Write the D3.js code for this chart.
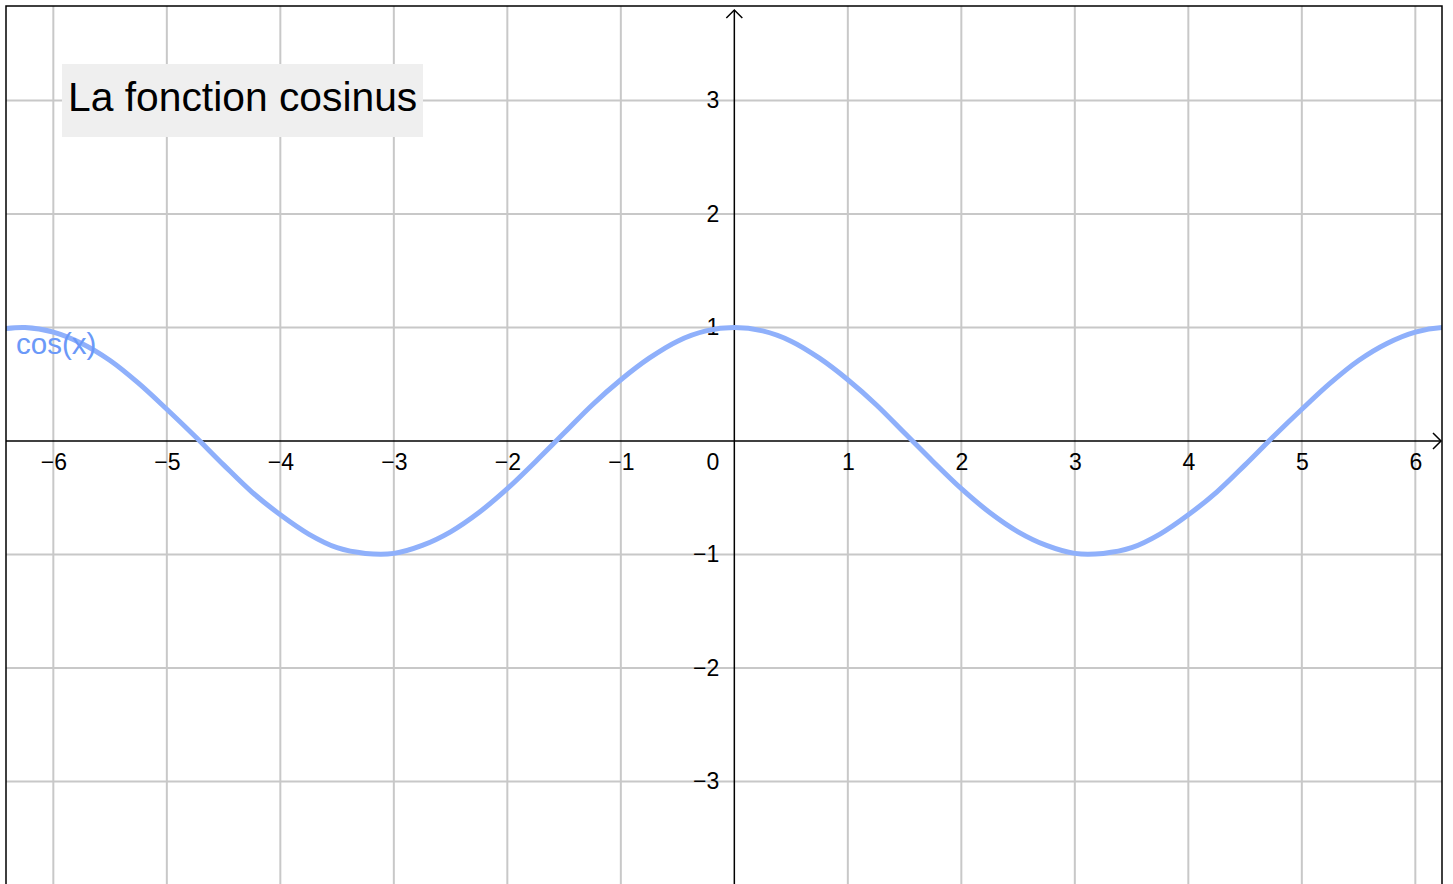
<!DOCTYPE html>
<html>
  <head>
    <meta charset="utf-8">
    <title>La fonction cosinus</title>
    <script src="https://cdn.jsdelivr.net/npm/d3@7"></script>
    <style>
      body { margin: 0; background: #fff; }
      svg { display: block; font-family: "Liberation Sans", Arial, sans-serif; }
      .grid line { stroke: #c8c8c8; stroke-width: 2; }
      .tick text, .label { font-family: "Liberation Sans", Arial, sans-serif; font-size: 23px; fill: #000; }
    </style>
  </head>

  <body>
    <svg id="chart" width="1453" height="884"></svg>

    <script>
      // data
      title = "La fonction cosinus";
      curveLabel = "cos(x)";
      xValues = [-6.5, -6.25, -6, -5.75, -5.5, -5.25, -5, -4.75, -4.5, -4.25, -4, -3.75, -3.5, -3.25,
        -3, -2.75, -2.5, -2.25, -2, -1.75, -1.5, -1.25, -1, -0.75, -0.5, -0.25, 0,
        0.25, 0.5, 0.75, 1, 1.25, 1.5, 1.75, 2, 2.25, 2.5, 2.75, 3, 3.25,
        3.5, 3.75, 4, 4.25, 4.5, 4.75, 5, 5.25, 5.5, 5.75, 6, 6.25, 6.5];
      yValues = [0.98, 1, 0.96, 0.86, 0.71, 0.51, 0.28, 0.04, -0.21, -0.45, -0.65, -0.82, -0.94, -0.99,
        -0.99, -0.92, -0.80, -0.63, -0.42, -0.18, 0.07, 0.32, 0.54, 0.73, 0.88, 0.97, 1,
        0.97, 0.88, 0.73, 0.54, 0.32, 0.07, -0.18, -0.42, -0.63, -0.80, -0.92, -0.99, -0.99,
        -0.94, -0.82, -0.65, -0.45, -0.21, 0.04, 0.28, 0.51, 0.71, 0.86, 0.96, 1, 0.98];
      xTicks = [-6, -5, -4, -3, -2, -1, 1, 2, 3, 4, 5, 6];
      yTicks = [-3, -2, -1, 1, 2, 3];

      chart = d3.select("#chart");

      // frame
      frame = { left: 6, top: 6, right: 1442, bottom: 884 };

      x = d3.scaleLinear()
        .domain([-6.417, 6.235])
        .range([frame.left, frame.right]);
      y = d3.scaleLinear()
        .domain([-3.903, 3.833])
        .range([frame.bottom, frame.top]);

      chart.append("clipPath")
        .attr("id", "clip")
        .append("rect")
          .attr("x", frame.left)
          .attr("y", frame.top)
          .attr("width", frame.right - frame.left)
          .attr("height", frame.bottom - frame.top);

      // grid
      grid = chart.append("g").classed("grid", true);
      grid.selectAll(".v")
        .data(xTicks)
        .join("line")
          .attr("x1", function(d) { return x(d); })
          .attr("x2", function(d) { return x(d); })
          .attr("y1", frame.top)
          .attr("y2", frame.bottom);
      grid.selectAll(".h")
        .data(yTicks)
        .join("line")
          .attr("y1", function(d) { return y(d); })
          .attr("y2", function(d) { return y(d); })
          .attr("x1", frame.left)
          .attr("x2", frame.right);

      // title box
      chart.append("rect")
        .attr("x", 62)
        .attr("y", 64)
        .attr("width", 361)
        .attr("height", 73)
        .attr("fill", "#efefef");
      chart.append("text")
        .attr("x", 68)
        .attr("y", 111)
        .style("font-size", "40.8px")
        .attr("fill", "#000")
        .text(title);

      // axes
      xAxis = chart.append("g")
        .attr("transform", "translate(0," + y(0) + ")")
        .call(d3.axisBottom(x)
          .tickValues(xTicks)
          .tickSize(0)
          .tickPadding(15));
      xAxis.select(".domain").remove();
      xAxis.selectAll(".tick text").attr("dy", "0.6em");

      yAxis = chart.append("g")
        .attr("transform", "translate(" + x(0) + ",0)")
        .call(d3.axisLeft(y)
          .tickValues(yTicks)
          .tickSize(0)
          .tickPadding(15));
      yAxis.select(".domain").remove();

      // origin label
      chart.append("text")
        .classed("label", true)
        .attr("x", x(0) - 15)
        .attr("y", y(0) + 29)
        .attr("text-anchor", "end")
        .text("0");

      axisLines = chart.append("g")
        .attr("stroke", "#000")
        .attr("stroke-width", 1.5)
        .attr("fill", "none");
      axisLines.append("line")
        .attr("x1", frame.left).attr("x2", frame.right - 1)
        .attr("y1", y(0)).attr("y2", y(0));
      axisLines.append("line")
        .attr("x1", x(0)).attr("x2", x(0))
        .attr("y1", frame.bottom).attr("y2", frame.top + 4);
      axisLines.append("path")
        .attr("d", "M" + (frame.right - 9) + "," + (y(0) - 8) + "L" + (frame.right - 1) + "," + y(0) +
          "L" + (frame.right - 9) + "," + (y(0) + 8));
      axisLines.append("path")
        .attr("d", "M" + (x(0) - 8) + "," + (frame.top + 12) + "L" + x(0) + "," + (frame.top + 4) +
          "L" + (x(0) + 8) + "," + (frame.top + 12));

      // curve
      line = d3.line()
        .x(function(d, i) { return x(xValues[i]); })
        .y(function(d) { return y(d); })
        .curve(d3.curveCatmullRom);
      chart.append("path")
        .attr("clip-path", "url(#clip)")
        .attr("d", line(yValues))
        .attr("fill", "none")
        .attr("stroke", "#8fb0fb")
        .attr("stroke-width", 5);

      chart.append("text")
        .attr("x", 16)
        .attr("y", 354)
        .style("font-size", "29.5px")
        .attr("fill", "#6b99f8")
        .text(curveLabel);

      // border (no bottom edge visible)
      chart.append("path")
        .attr("d", "M" + frame.left + "," + (frame.bottom + 5) + "V" + frame.top + "H" + frame.right + "V" + (frame.bottom + 5))
        .attr("fill", "none")
        .attr("stroke", "#000")
        .attr("stroke-width", 1.5);
    </script>
  </body>
</html>
